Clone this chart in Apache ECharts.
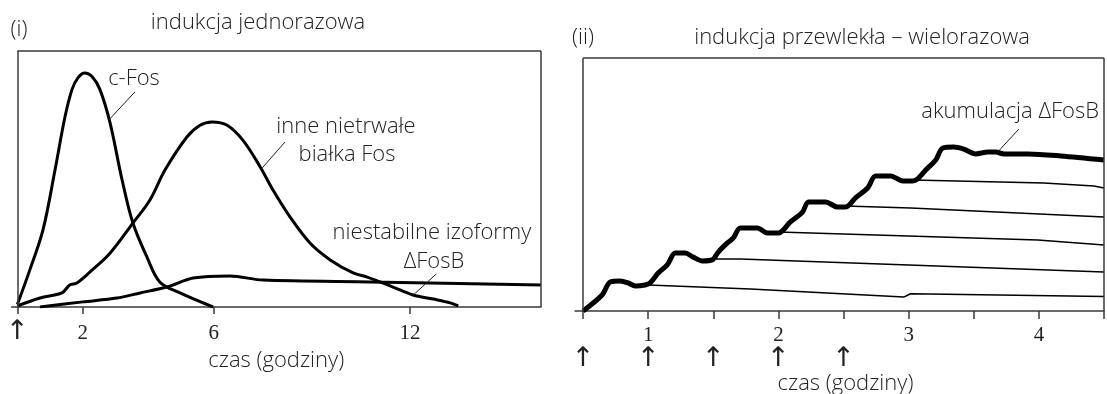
<!DOCTYPE html>
<html>
<head>
<meta charset="utf-8">
<script src="https://cdn.jsdelivr.net/npm/echarts@6/dist/echarts.min.js"></script>
<style>
html,body{margin:0;padding:0;background:#fff;}
#chart{width:1107px;height:394px;}
</style>
</head>
<body>
<div id="chart"></div>
<script>
// ---- data (panel i: single induction, x = hours, y = relative level 0-100) ----
const cFos = [[0,1],[0.38,14.5],[0.78,30],[1.15,53.5],[1.45,74],[1.67,85],[1.85,89.5],[2.06,91.4],[2.28,90],[2.52,85],[2.83,72],[3.2,49.6],[3.53,32.8],[3.96,19.5],[4.35,9.8],[4.97,5.5],[5.98,0]];
const inneFos = [[0,0.4],[0.69,3.5],[1.36,5.5],[1.6,8.6],[1.82,9.4],[2.22,13.7],[2.83,21],[3.53,32.8],[4.05,41.8],[4.51,53.5],[5.18,66.4],[5.58,71],[5.95,72.3],[6.41,71],[6.9,65],[7.42,54.7],[7.81,45.7],[8.33,35.2],[8.94,25],[9.56,18.4],[10.26,13.3],[10.69,11.7],[11.08,9.8],[11.48,7.8],[12.09,4.7],[12.71,3.1],[13.23,1.6],[13.47,0.4]];
const dFosBUnstable = [[0.69,0],[2.0,2],[3.04,3.5],[3.75,5.5],[4.57,7.8],[5.37,11.3],[6.5,12.1],[7.51,10.5],[10.78,9.8],[16,8.6]];
const ticksI = [0,2,6,12];
const labelsI = [0,2,6,12];

// ---- data (panel ii: chronic induction) ----
const accumulation = [[0.5,0],[0.646,6.3],[0.708,11.5],[0.785,11.9],[0.846,11.1],[0.9,9.9],[0.977,10.3],[1.015,11.1],[1.077,15],[1.146,18.2],[1.208,22.9],[1.285,22.9],[1.346,21.3],[1.415,19.8],[1.492,20.2],[1.538,23.3],[1.608,26.9],[1.654,28.9],[1.708,32.8],[1.838,32.8],[1.915,30.8],[2.0,30.8],[2.092,35.2],[2.185,39.1],[2.231,43.1],[2.362,43.1],[2.454,41.1],[2.515,41.1],[2.592,44.7],[2.685,48.6],[2.746,53.4],[2.862,53.4],[2.954,51.4],[3.031,51.4],[3.069,52.2],[3.131,55.7],[3.208,59.7],[3.262,64.4],[3.346,64.8],[3.423,64.0],[3.515,62.1],[3.608,62.8],[3.669,62.8],[3.731,62.1],[3.915,62.1],[4.169,61.3],[4.5,59.7]];
const decay1 = [[1.0,10.3],[1.785,8.7],[2.962,5.5],[3.015,6.8],[4.5,5.7]];
const decay2 = [[1.5,20.6],[1.708,20.6],[3.0,18.2],[4.5,15.4]];
const decay3 = [[2.0,31.2],[3.992,28.1],[4.5,26.1]];
const decay4 = [[2.515,41.5],[3.015,40.7],[4.5,37.2]];
const decay5 = [[3.031,51.8],[4.038,50.6],[4.423,49.4],[4.5,48.6]];
const ticksII = [0.5,1,1.5,2,2.5,3,3.5,4,4.5];
const labelsII = [1,2,3,4];
const injectionsII = [0.5,1,1.5,2,2.5];

const FONT = '"Open Sans", "Noto Sans", sans-serif';
const SERIF = '"Liberation Serif", "DejaVu Serif", serif';
const ARROWF = '"DejaVu Sans", sans-serif';
const TXT = '#222';
const AX = '#3a3a3a';
const FS = 22;

function lineSeries(data, xi, yi, w, smooth) {
  return {type:'line', data:data, xAxisIndex:xi, yAxisIndex:yi, showSymbol:false, symbol:'none',
    smooth:smooth, lineStyle:{color:'#000', width:w}, silent:true, z:3};
}
function seg(a, b, style) { return [{coord:a, lineStyle:style}, {coord:b}]; }
const border = {color:AX, width:1.5, type:'solid'};
const leader = {color:'#222', width:1, type:'solid'};

const s0 = lineSeries(cFos, 0, 0, 3, 0.35);
s0.markLine = {silent:true, symbol:['none','none'], label:{show:false}, animation:false,
  data:[
    seg([0,0],[0,100],border), seg([0,100],[16,100],border), seg([16,0],[16,100],border),
    seg([3.59,84],[2.79,73],leader), seg([8.18,64.5],[7.46,54],leader), seg([12.8,12.9],[12.09,4.6],leader)
  ]};
const s3 = lineSeries(accumulation, 1, 1, 5, 0.3);
s3.markLine = {silent:true, symbol:['none','none'], label:{show:false}, animation:false,
  data:[
    seg([0.5,0],[0.5,100],border), seg([0.5,100],[4.5,100],border), seg([4.5,0],[4.5,100],border),
    seg([3.846,71.9],[3.69,63.2],leader)
  ]};

function txt(x, y, s, align) {
  return {type:'text', x:x, y:y, style:{text:s, font:'300 '+FS+'px '+FONT, fill:TXT,
    textAlign:align||'center', textVerticalAlign:'middle'}};
}

const option = {
  animation:false,
  grid:[
    {left:11.5, top:51, width:529.5, height:256, containLabel:false, outerBoundsMode:'none'},
    {left:575, top:58, width:529, height:253, containLabel:false, outerBoundsMode:'none'}
  ],
  xAxis:[
    {type:'value', gridIndex:0, min:-0.18, max:16,
      axisLine:{show:true, onZero:false, lineStyle:{color:AX, width:1.5}},
      axisTick:{show:true, customValues:ticksI, length:7, lineStyle:{color:AX, width:1.5}},
      axisLabel:{show:true, customValues:labelsI, margin:16, color:TXT, fontFamily:SERIF, fontSize:21,
        formatter:function(v){ return v===0 ? '{a|↑}' : String(v); },
        rich:{a:{fontFamily:ARROWF, fontSize:27, lineHeight:17, color:TXT}}},
      splitLine:{show:false},
      name:'czas (godziny)', nameLocation:'middle', nameGap:41,
      nameTextStyle:{color:TXT, fontFamily:FONT, fontSize:FS, fontWeight:300}},
    {type:'value', gridIndex:1, min:0.438, max:4.5,
      axisLine:{show:true, onZero:false, lineStyle:{color:AX, width:1.5}},
      axisTick:{show:true, customValues:ticksII, length:8, lineStyle:{color:AX, width:1.5}},
      axisLabel:{show:true, customValues:labelsII, margin:14, color:TXT, fontFamily:SERIF, fontSize:21},
      splitLine:{show:false},
      name:'czas (godziny)', nameLocation:'middle', nameGap:62,
      nameTextStyle:{color:TXT, fontFamily:FONT, fontSize:FS, fontWeight:300, padding:[0,0,0,12]}},
    {type:'value', gridIndex:1, min:0.438, max:4.5, position:'bottom', offset:26,
      axisLine:{show:false}, axisTick:{show:false}, splitLine:{show:false},
      axisLabel:{show:true, customValues:injectionsII, margin:8, color:TXT,
        fontFamily:ARROWF, fontSize:27, formatter:function(){ return '↑'; }}}
  ],
  yAxis:[
    {type:'value', gridIndex:0, min:0, max:100, axisLine:{show:false}, axisTick:{show:false}, axisLabel:{show:false}, splitLine:{show:false}},
    {type:'value', gridIndex:1, min:0, max:100, axisLine:{show:false}, axisTick:{show:false}, axisLabel:{show:false}, splitLine:{show:false}}
  ],
  series:[
    s0,
    lineSeries(inneFos, 0, 0, 3, 0.35),
    lineSeries(dFosBUnstable, 0, 0, 3, 0.3),
    s3,
    lineSeries(decay1, 1, 1, 1.5, false),
    lineSeries(decay2, 1, 1, 1.5, false),
    lineSeries(decay3, 1, 1, 1.5, false),
    lineSeries(decay4, 1, 1, 1.5, false),
    lineSeries(decay5, 1, 1, 1.5, false)
  ],
  graphic:[
    txt(19, 30, '(i)'),
    txt(258, 23, 'indukcja jednorazowa'),
    txt(134, 79, 'c-Fos'),
    txt(346, 127, 'inne nietrwałe'),
    txt(347, 155, 'białka Fos'),
    txt(432, 233, 'niestabilne izoformy'),
    txt(434, 262, 'ΔFosB'),
    txt(583, 38, '(ii)'),
    txt(862, 38, 'indukcja przewlekła – wielorazowa'),
    txt(1099, 112, 'akumulacja ΔFosB', 'right')
  ]
};
const chart = echarts.init(document.getElementById('chart'), null, {renderer:'canvas'});
chart.setOption(option);
</script>
</body>
</html>
